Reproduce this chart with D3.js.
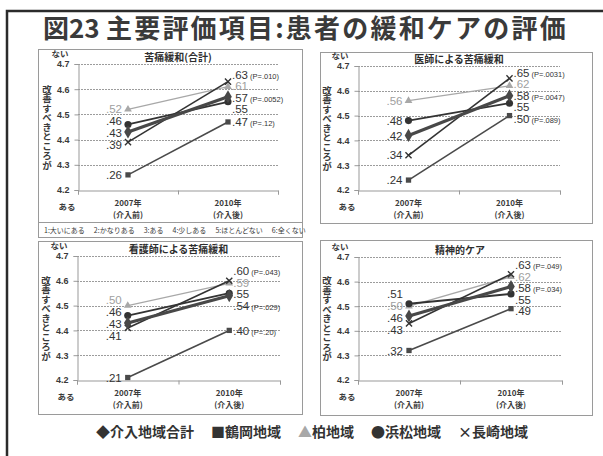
<!DOCTYPE html>
<html><head><meta charset="utf-8">
<script src="https://cdn.jsdelivr.net/npm/d3@7"></script>
<style>
body{margin:0;background:#fff;}
svg{display:block;font-family:"Noto Sans CJK JP","Noto Sans",sans-serif;}
</style>
</head><body>
<svg id="c" width="603" height="456"></svg>
<script>
// ---------- data ----------
const titleNum = "図23";
const titleText = "主要評価項目:患者の緩和ケアの評価";
const categories = ["2007年", "2010年"];
const categorySubs = ["(介入前)", "(介入後)"];
const yTicks = [4.2, 4.3, 4.4, 4.5, 4.6, 4.7];
const yTopLabel = "ない";
const yBottomLabel = "ある";
const yTitle = "改善すべきところが";
const seriesNames = ["介入地域合計", "鶴岡地域", "柏地域", "浜松地域", "長崎地域"];
const seriesSymbols = ["◆", "■", "▲", "●", "×"];
const panelTitles = ["苦痛緩和(合計)", "医師による苦痛緩和", "看護師による苦痛緩和", "精神的ケア"];
const scaleLegend = ["1:大いにある", "2:かなりある", "3:ある", "4:少しある", "5:ほとんどない", "6:全くない"];

// series order: 介入地域合計, 鶴岡, 柏, 浜松, 長崎
const painTotal2007 = [4.43, 4.26, 4.52, 4.46, 4.39];
const painTotal2010 = [4.57, 4.47, 4.61, 4.55, 4.63];
const painTotalP    = ["(P=.0052)", "(P=.12)", "", "", "(P=.010)"];

const doctor2007 = [4.42, 4.24, 4.56, 4.48, 4.34];
const doctor2010 = [4.58, 4.50, 4.62, 4.55, 4.65];
const doctorP    = ["(P=.0047)", "(P=.089)", "", "", "(P=.0031)"];

const nurse2007 = [4.43, 4.21, 4.50, 4.46, 4.41];
const nurse2010 = [4.54, 4.40, 4.59, 4.55, 4.60];
const nurseP    = ["(P=.029)", "(P=.20)", "", "", "(P=.043)"];

const mental2007 = [4.46, 4.32, 4.50, 4.51, 4.43];
const mental2010 = [4.58, 4.49, 4.62, 4.55, 4.63];
const mentalP    = ["(P=.034)", "", "", "", "(P=.049)"];

// ---------- drawing ----------
const svg = d3.select("#c");
svg.append("rect").attr("width", 603).attr("height", 456).attr("fill", "#fff");

// outer slide frame
svg.append("path").attr("d", "M7,456 V11 H603").attr("fill", "none")
  .attr("stroke", "#2b2b2b").attr("stroke-width", 2.5);

// title
svg.append("text").attr("x", 43).attr("y", 38).attr("font-size", 26).attr("font-weight", "bold")
  .attr("fill", "#3a3a3a").text(titleNum);
svg.append("text").attr("x", 106).attr("y", 38).attr("font-size", 26).attr("font-weight", "bold")
  .attr("letter-spacing", 2.2).attr("fill", "#3a3a3a").text(titleText);

const styles = [
  {sym: d3.symbolDiamond, size: 50, color: "#484848", width: 3.2, stroke: false},
  {sym: d3.symbolSquare, size: 28, color: "#4a4a4a", width: 1.6, stroke: false},
  {sym: d3.symbolTriangle, size: 26, color: "#a8a8a8", width: 1.3, stroke: false},
  {sym: d3.symbolCircle, size: 40, color: "#333", width: 1.8, stroke: false},
  {sym: d3.symbolX, size: 26, color: "#333", width: 1.6, stroke: true}
];
const drawOrder = [2, 1, 4, 3, 0];

const panels = [
  {title: panelTitles[0], v07: painTotal2007, v10: painTotal2010, p: painTotalP,
   frame: {x: 38, y: 49, w: 264, h: 173}, plot: {x: 78, y: 64, w: 200, h: 126}},
  {title: panelTitles[1], v07: doctor2007, v10: doctor2010, p: doctorP,
   frame: {x: 320, y: 52, w: 272, h: 171}, plot: {x: 358, y: 66, w: 202, h: 124}},
  {title: panelTitles[2], v07: nurse2007, v10: nurse2010, p: nurseP,
   frame: {x: 38, y: 241, w: 264, h: 173}, plot: {x: 77, y: 256, w: 203, h: 124}},
  {title: panelTitles[3], v07: mental2007, v10: mental2010, p: mentalP,
   frame: {x: 320, y: 240, w: 272, h: 175}, plot: {x: 358, y: 257, w: 204, h: 123}}
];

function relax(items, gap) {
  items.sort((a, b) => a.y - b.y);
  for (let it = 0; it < 100; it++) {
    for (let i = 1; i < items.length; i++) {
      const d = items[i].y - items[i - 1].y;
      if (d < gap) {
        const s = (gap - d) / 2;
        items[i - 1].y -= s; items[i].y += s;
      }
    }
  }
  return items;
}

const labelFont = "'Liberation Sans', Arial, sans-serif";

panels.forEach(pn => {
  const g = svg.append("g");
  const f = pn.frame, p = pn.plot;
  g.append("rect").attr("x", f.x + 0.5).attr("y", f.y + 0.5).attr("width", f.w).attr("height", f.h)
    .attr("fill", "#fff").attr("stroke", "#9a9a9a").attr("stroke-width", 1);

  const y = d3.scaleLinear().domain([yTicks[0], yTicks[yTicks.length - 1]]).range([p.y + p.h, p.y]);
  const x = d3.scalePoint().domain(categories).range([p.x, p.x + p.w]).padding(0.5);

  // gridlines
  g.selectAll(".grid").data(yTicks.slice(1)).join("line")
    .attr("x1", p.x).attr("x2", p.x + p.w)
    .attr("y1", d => Math.round(y(d)) + 0.5).attr("y2", d => Math.round(y(d)) + 0.5)
    .attr("stroke", "#9c9c9c").attr("stroke-width", 1).attr("stroke-dasharray", "2,1");
  // y axis
  const yAxis = g.append("g").attr("transform", `translate(${p.x + 0.5},0)`)
    .call(d3.axisLeft(y).tickValues(yTicks).tickFormat(d3.format(".1f")).tickSize(4).tickPadding(5));
  yAxis.select(".domain").attr("stroke", "#999");
  yAxis.selectAll(".tick line").attr("stroke", "#999");
  yAxis.selectAll(".tick text").attr("font-size", 9).attr("font-weight", "bold").attr("fill", "#3a3a3a")
    .attr("font-family", labelFont);
  // x axis
  const xb = d3.scaleLinear().domain([0, 2]).range([p.x, p.x + p.w]);
  const xAxis = g.append("g").attr("transform", `translate(0,${Math.round(p.y + p.h) + 0.5})`)
    .call(d3.axisBottom(xb).tickValues([0, 1, 2]).tickFormat("").tickSize(4));
  xAxis.select(".domain").attr("stroke", "#999");
  xAxis.selectAll(".tick line").attr("stroke", "#999");

  // category labels (two lines)
  categories.forEach((c, i) => {
    g.append("text").attr("x", x(c)).attr("y", p.y + p.h + 16).attr("text-anchor", "middle")
      .attr("font-size", 8).attr("font-weight", "bold").attr("fill", "#3a3a3a").text(c);
    g.append("text").attr("x", x(c)).attr("y", p.y + p.h + 27.5).attr("text-anchor", "middle")
      .attr("font-size", 8).attr("font-weight", "bold").attr("fill", "#3a3a3a").text(categorySubs[i]);
  });
  g.append("text").attr("x", p.x - 11).attr("y", p.y + p.h + 20).attr("text-anchor", "middle")
    .attr("font-size", 8.5).attr("font-weight", "bold").attr("fill", "#3a3a3a").text(yBottomLabel);
  g.append("text").attr("x", p.x - 18).attr("y", p.y - 7).attr("text-anchor", "middle")
    .attr("font-size", 8.5).attr("font-weight", "bold").attr("fill", "#3a3a3a").text(yTopLabel);

  // vertical y title (single vertical text)
  g.append("text").attr("x", p.x - 31).attr("y", p.y + p.h / 2)
    .attr("text-anchor", "middle")
    .style("writing-mode", "vertical-rl").style("text-orientation", "upright")
    .attr("font-size", 9.5).attr("font-weight", "bold").attr("fill", "#3a3a3a").text(yTitle);

  // panel title
  g.append("text").attr("x", p.x + p.w / 2).attr("y", p.y - 3).attr("text-anchor", "middle")
    .attr("font-size", 10).attr("font-weight", "bold").attr("fill", "#2e2e2e").text(pn.title);

  // lines & markers
  drawOrder.forEach(si => {
    const st = styles[si];
    const pts = [[x(categories[0]), y(pn.v07[si])], [x(categories[1]), y(pn.v10[si])]];
    g.append("path").attr("d", d3.line()(pts)).attr("fill", "none")
      .attr("stroke", st.color).attr("stroke-width", st.width);
    pts.forEach(pt => {
      const m = g.append("path").attr("d", d3.symbol(st.sym, st.size)())
        .attr("transform", `translate(${pt[0]},${pt[1]})`);
      if (st.stroke) m.attr("fill", "none").attr("stroke", st.color).attr("stroke-width", 1.4);
      else m.attr("fill", st.color);
    });
  });

  // value labels
  const fmt = v => d3.format(".2f")(v).slice(1);
  const left = relax(pn.v07.map((v, i) => ({v, i, y: y(v)})), 12);
  const right = relax(pn.v10.map((v, i) => ({v, i, y: y(v)})), 11.5);
  left.forEach(d => {
    g.append("text").attr("x", x(categories[0]) - 6).attr("y", d.y).attr("dy", "0.36em")
      .attr("text-anchor", "end").attr("font-size", 11.5).attr("font-family", labelFont)
      .attr("fill", d.i === 2 ? "#a0a0a0" : "#333").text(fmt(d.v));
  });
  right.forEach(d => {
    const t = g.append("text").attr("x", x(categories[1]) + 4).attr("y", d.y).attr("dy", "0.36em")
      .attr("font-size", 11.5).attr("font-family", labelFont)
      .attr("fill", d.i === 2 ? "#a0a0a0" : "#333");
    t.append("tspan").text(fmt(d.v));
    if (pn.p[d.i]) t.append("tspan").attr("font-size", 7.5).attr("dx", 2).text(pn.p[d.i]);
  });
});

// scale legend box under panel 1
const lb = svg.append("g");
lb.append("rect").attr("x", 38.5).attr("y", 222.5).attr("width", 264).attr("height", 15)
  .attr("fill", "#fff").attr("stroke", "#9a9a9a");
let lx = 44;
scaleLegend.forEach(s => {
  const t = lb.append("text").attr("x", lx).attr("y", 233).attr("font-size", 7)
    .attr("fill", "#3a3a3a").text(s);
  lx += t.node().getComputedTextLength() + 9;
});

// series legend
let sx = 96;
seriesNames.forEach((n, i) => {
  const t = svg.append("text").attr("x", sx).attr("y", 437).attr("font-size", 14)
    .attr("font-weight", "bold").attr("fill", "#333");
  t.append("tspan").attr("fill", i === 2 ? "#a8a8a8" : "#333").text(seriesSymbols[i]);
  t.append("tspan").text(n);
  sx += t.node().getComputedTextLength() + 17;
});
</script>
</body></html>
